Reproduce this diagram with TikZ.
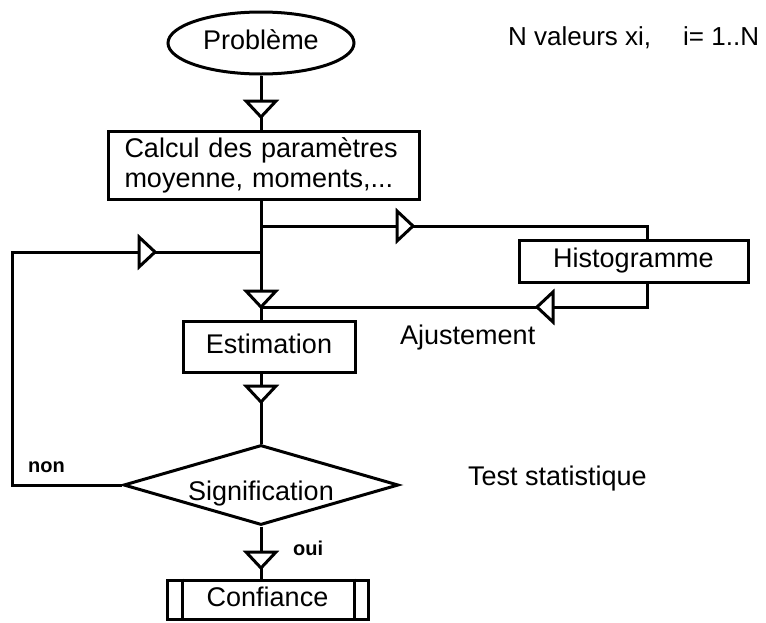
\documentclass[tikz,border=0pt]{standalone}
\usepackage{fontspec}
\setmainfont{Liberation Sans}
\usetikzlibrary{shapes.geometric,calc}

\tikzset{
  every node/.style={font=\fontsize{27}{30}\selectfont},
  flow/.style={line width=3pt, line join=miter},
  box/.style={draw, flow, fill=white, rectangle, inner sep=0pt},
  oneline/.style={text height=19pt, text depth=6pt},
  tag/.style={font=\fontsize{20}{22}\selectfont\bfseries, anchor=base west, inner sep=0pt},
  note/.style={anchor=base west, inner sep=0pt},
  tri/.pic={\draw[flow, fill=white] (0,0) -- (-16,15) -- (-16,-15) -- cycle;}
}

\begin{document}
\begin{tikzpicture}[x=1pt, y=-1pt]
\useasboundingbox (0,0) rectangle (766,622);

% main axis of the flow chart
\coordinate (ax) at (261,0);

% nodes
\node[draw, flow, ellipse, minimum width=186pt, minimum height=62pt, inner sep=0pt, oneline]
  (prob) at (261,43) {Problème};
\node[box, anchor=north west, minimum width=311pt, minimum height=68pt,
      inner xsep=16pt, text width=279pt, align=left]
  (calc) at (107,130) {Calcul des paramètres\\moyenne, moments,...};
\node[box, minimum width=229pt, minimum height=42pt, oneline]
  (hist) at (633.5,261) {Histogramme};
\node[box, minimum width=172pt, minimum height=51pt, oneline]
  (est) at (269,346.5) {Estimation};
\node[draw, flow, fill=white, diamond, aspect=3.44, minimum width=275pt, minimum height=80pt,
      inner sep=0pt, text height=31pt, text depth=1pt]
  (sig) at (261,485) {Signification};
\node[box, minimum width=201pt, minimum height=39pt, oneline]
  (conf) at (267.5,599.5) {Confiance};
\draw[flow] ([xshift=17pt]conf.north west) -- ([xshift=17pt]conf.south west);
\draw[flow] ([xshift=-15pt]conf.north east) -- ([xshift=-15pt]conf.south east);

% free texts
\node[note, font=\fontsize{26}{30}\selectfont] (nval) at (508,45) {N valeurs xi,\hspace{32pt}i= 1..N};
\node[note] (ajust) at (400,344) {Ajustement};
\node[note] (test) at (468,485) {Test statistique};
\node[tag] (non) at (28,472) {non};
\node[tag] (oui) at (293,555) {oui};

% branch points
\coordinate (hR) at (647,226);
\coordinate (aj) at (647,307);
\coordinate (lp) at (12,252);

% connectors
\draw[flow] (prob.south -| ax) -- (calc.north -| ax);
\draw[flow] (calc.south -| ax) -- (est.north -| ax);
\draw[flow] (hR -| ax) -- (hR) -- (hist.north -| hR);
\draw[flow] (hist.south -| aj) -- (aj) -- (aj -| ax);
\draw[flow] (sig.west) -| (lp) -- (lp -| ax);
\draw[flow] (est.south -| ax) -- (sig.north);
\draw[flow] (sig.south) -- (conf.north -| ax);

% open arrowheads
\pic[rotate=-90] at (261,117) {tri};
\pic[rotate=-90] at (261,307) {tri};
\pic[rotate=-90] at (261,402) {tri};
\pic[rotate=-90] at (261,568) {tri};
\pic at (413,226) {tri};
\pic at (155,252) {tri};
\pic[rotate=180] at (537,307) {tri};
\end{tikzpicture}
\end{document}
